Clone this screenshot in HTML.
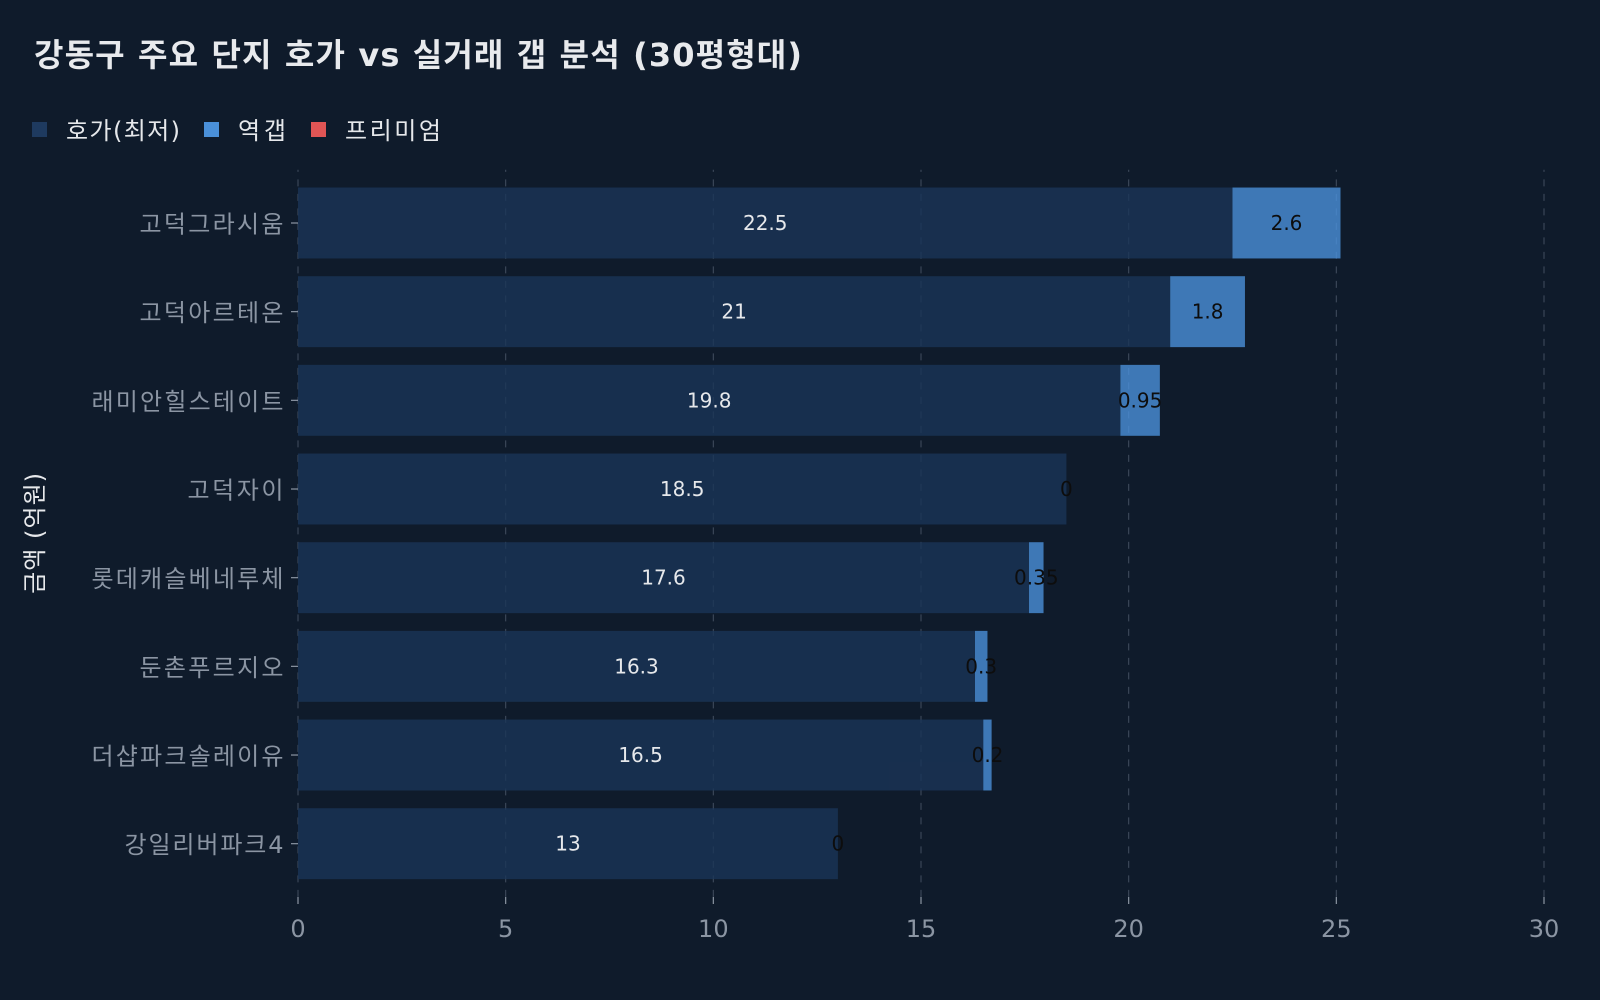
<!DOCTYPE html>
<html>
<head>
<meta charset="utf-8">
<style>
  html, body { margin:0; padding:0; background:#0f1b2b; }
  svg { display:block; }
  text { font-family: "DejaVu Sans", "Noto Sans CJK KR", sans-serif; }
</style>
</head>
<body>
<svg width="1600" height="1000" viewBox="0 0 1600 1000" xmlns="http://www.w3.org/2000/svg">
  <rect x="0" y="0" width="1600" height="1000" fill="#0f1b2b"/>

  <!-- Title -->
  <text x="34" y="66" font-size="32" font-weight="bold" fill="#e8eaed" textLength="768" lengthAdjust="spacing">강동구 주요 단지 호가 vs 실거래 갭 분석 (30평형대)</text>

  <!-- Legend -->
  <rect x="32" y="122" width="15" height="15" fill="#1e3a5f"/>
  <text x="66" y="139" font-size="24" fill="#e6e8eb" textLength="114" lengthAdjust="spacing">호가(최저)</text>
  <rect x="204" y="122" width="15" height="15" fill="#4a90d9"/>
  <text x="238" y="139" font-size="24" fill="#e6e8eb" textLength="48" lengthAdjust="spacing">역갭</text>
  <rect x="311" y="122" width="15" height="15" fill="#e05555"/>
  <text x="345" y="139" font-size="24" fill="#e6e8eb" textLength="96" lengthAdjust="spacing">프리미엄</text>

  <!-- Y axis label -->
  <text transform="translate(43,533.4) rotate(-90)" text-anchor="middle" font-size="24" fill="#e6e8eb" textLength="121" lengthAdjust="spacing">금액 (억원)</text>

  <!-- Grid lines -->
  <g stroke="#3e4a5b" stroke-width="1.1" stroke-dasharray="7 7.5">
    <line x1="298" y1="896.9" x2="298" y2="169.8"/>
    <line x1="505.67" y1="896.9" x2="505.67" y2="169.8"/>
    <line x1="713.33" y1="896.9" x2="713.33" y2="169.8"/>
    <line x1="921" y1="896.9" x2="921" y2="169.8"/>
    <line x1="1128.67" y1="896.9" x2="1128.67" y2="169.8"/>
    <line x1="1336.33" y1="896.9" x2="1336.33" y2="169.8"/>
    <line x1="1544" y1="896.9" x2="1544" y2="169.8"/>
  </g>

  <!-- Base bars (호가) -->
  <g fill="#1a3557" opacity="0.8">
    <rect x="298" y="187.53" width="934.5" height="70.93"/>
    <rect x="298" y="276.2" width="872.2" height="70.93"/>
    <rect x="298" y="364.87" width="822.4" height="70.93"/>
    <rect x="298" y="453.54" width="768.4" height="70.93"/>
    <rect x="298" y="542.21" width="731.0" height="70.93"/>
    <rect x="298" y="630.88" width="677.0" height="70.93"/>
    <rect x="298" y="719.55" width="685.3" height="70.93"/>
    <rect x="298" y="808.22" width="539.9" height="70.93"/>
  </g>

  <!-- Gap bars (역갭) -->
  <g fill="#4a90d9" opacity="0.8">
    <rect x="1232.5" y="187.53" width="108.0" height="70.93"/>
    <rect x="1170.2" y="276.2" width="74.76" height="70.93"/>
    <rect x="1120.4" y="364.87" width="39.46" height="70.93"/>
    <rect x="1029.0" y="542.21" width="14.54" height="70.93"/>
    <rect x="975.0" y="630.88" width="12.46" height="70.93"/>
    <rect x="983.3" y="719.55" width="8.31" height="70.93"/>
  </g>

  <!-- Base labels -->
  <g font-size="20" fill="#e6e8eb" text-anchor="middle">
    <text x="765.25" y="230">22.5</text>
    <text x="734.1" y="318.67">21</text>
    <text x="709.2" y="407.34">19.8</text>
    <text x="682.2" y="496.01">18.5</text>
    <text x="663.5" y="584.68">17.6</text>
    <text x="636.5" y="673.35">16.3</text>
    <text x="640.6" y="762.02">16.5</text>
    <text x="567.96" y="850.69">13</text>
  </g>

  <!-- Gap labels -->
  <g font-size="20" fill="#0d0d0d" text-anchor="middle">
    <text x="1286.5" y="230">2.6</text>
    <text x="1207.6" y="318.67">1.8</text>
    <text x="1140.1" y="407.34">0.95</text>
    <text x="1066.4" y="496.01">0</text>
    <text x="1036.3" y="584.68">0.35</text>
    <text x="981.2" y="673.35">0.3</text>
    <text x="987.5" y="762.02">0.2</text>
    <text x="837.9" y="850.69">0</text>
  </g>

  <!-- Y ticks -->
  <g stroke="#8b95a3" stroke-width="1.2">
    <line x1="291" y1="223" x2="298" y2="223"/>
    <line x1="291" y1="311.67" x2="298" y2="311.67"/>
    <line x1="291" y1="400.34" x2="298" y2="400.34"/>
    <line x1="291" y1="489.01" x2="298" y2="489.01"/>
    <line x1="291" y1="577.68" x2="298" y2="577.68"/>
    <line x1="291" y1="666.35" x2="298" y2="666.35"/>
    <line x1="291" y1="755.02" x2="298" y2="755.02"/>
    <line x1="291" y1="843.69" x2="298" y2="843.69"/>
  </g>

  <!-- Y tick labels -->
  <g font-size="24" fill="#8b95a3" text-anchor="end">
    <text x="283.5" y="232.5" textLength="144" lengthAdjust="spacing">고덕그라시움</text>
    <text x="283.5" y="321.17" textLength="144" lengthAdjust="spacing">고덕아르테온</text>
    <text x="283.5" y="409.84" textLength="192" lengthAdjust="spacing">래미안힐스테이트</text>
    <text x="283.5" y="498.51" textLength="96" lengthAdjust="spacing">고덕자이</text>
    <text x="283.5" y="587.18" textLength="192" lengthAdjust="spacing">롯데캐슬베네루체</text>
    <text x="283.5" y="675.85" textLength="144" lengthAdjust="spacing">둔촌푸르지오</text>
    <text x="283.5" y="764.52" textLength="192" lengthAdjust="spacing">더샵파크솔레이유</text>
    <text x="283.5" y="853.19" textLength="159" lengthAdjust="spacing">강일리버파크4</text>
  </g>

  <!-- X ticks -->
  <g stroke="#8b95a3" stroke-width="1.2">
    <line x1="298" y1="897" x2="298" y2="904"/>
    <line x1="505.67" y1="897" x2="505.67" y2="904"/>
    <line x1="713.33" y1="897" x2="713.33" y2="904"/>
    <line x1="921" y1="897" x2="921" y2="904"/>
    <line x1="1128.67" y1="897" x2="1128.67" y2="904"/>
    <line x1="1336.33" y1="897" x2="1336.33" y2="904"/>
    <line x1="1544" y1="897" x2="1544" y2="904"/>
  </g>

  <!-- X tick labels -->
  <g font-size="24" fill="#8b95a3" text-anchor="middle">
    <text x="298" y="937">0</text>
    <text x="505.67" y="937">5</text>
    <text x="713.33" y="937">10</text>
    <text x="921" y="937">15</text>
    <text x="1128.67" y="937">20</text>
    <text x="1336.33" y="937">25</text>
    <text x="1544" y="937">30</text>
  </g>
</svg>
</body>
</html>
